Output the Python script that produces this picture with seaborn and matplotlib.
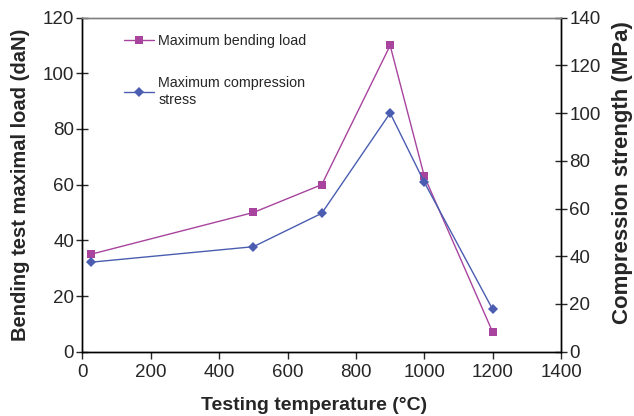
import matplotlib
matplotlib.use("Agg")
import matplotlib.pyplot as plt
import seaborn as sns
import pandas as pd

temps_bend = [25, 500, 700, 900, 1000, 1200]
bending_load = [35, 50, 60, 110, 63, 7]
temps_comp = [25, 500, 700, 900, 1000, 1200]
compression = [37.5, 44, 58, 100, 71, 17.7]

sns.set_style("white")
plt.rcParams['font.family'] = ['Liberation Sans', 'DejaVu Sans']

magenta = "#A8449E"
blue = "#4A5DB0"

fig = plt.figure(figsize=(6.34, 4.16), dpi=100)
ax = fig.add_axes([0.130, 0.1546, 0.755, 0.803])
ax2 = ax.twinx()

df1 = pd.DataFrame({"T": temps_bend, "v": bending_load})
df2 = pd.DataFrame({"T": temps_comp, "v": compression})

sns.lineplot(data=df1, x="T", y="v", ax=ax, color=magenta, marker="s",
             markersize=5.2, markeredgewidth=0, linewidth=1,
             label="Maximum bending load", legend=False)
sns.lineplot(data=df2, x="T", y="v", ax=ax2, color=blue, marker="D",
             markersize=4.8, markeredgewidth=0, linewidth=1,
             label="Maximum compression\nstress", legend=False)

ax.set_xlim(0, 1400)
ax.set_ylim(0, 120)
ax2.set_ylim(0, 140)
ax.set_xticks(range(0, 1401, 200))
ax.set_yticks(range(0, 121, 20))
ax2.set_yticks(range(0, 141, 20))

for a in (ax, ax2):
    for s in a.spines.values():
        s.set_color("black")
        s.set_linewidth(1)
ax.spines['top'].set_color("#808080")
ax2.spines['top'].set_color("#808080")

ax.tick_params(axis='y', direction='inout', length=8, width=1, labelsize=13.5, pad=2)
ax.tick_params(axis='x', direction='out', length=5, width=1, labelsize=13.5, pad=4, bottom=True)
ax2.tick_params(axis='y', direction='inout', length=8, width=1, labelsize=13.5, pad=2, right=True)

ax.set_xlabel("Testing temperature (°C)", fontsize=14, fontweight='bold')
ax.set_ylabel("Bending test maximal load (daN)", fontsize=14.5, fontweight='bold')
ax2.set_ylabel("Compression strength (MPa)", fontsize=16, fontweight='bold')

ax.xaxis.set_label_coords(0.483, -0.135)
ax.yaxis.set_label_coords(-0.110, 0.5)
ax2.yaxis.set_label_coords(1.107, 0.535)

h1, l1 = ax.get_legend_handles_labels()
h2, l2 = ax2.get_legend_handles_labels()
leg = ax2.legend(h1 + h2, l1 + l2, loc='upper left', bbox_to_anchor=(0.06, 0.99),
                 frameon=False, fontsize=10.3, handlelength=2.1, labelspacing=2.0,
                 handletextpad=0.3)

fig.savefig("out.png", dpi=100)
